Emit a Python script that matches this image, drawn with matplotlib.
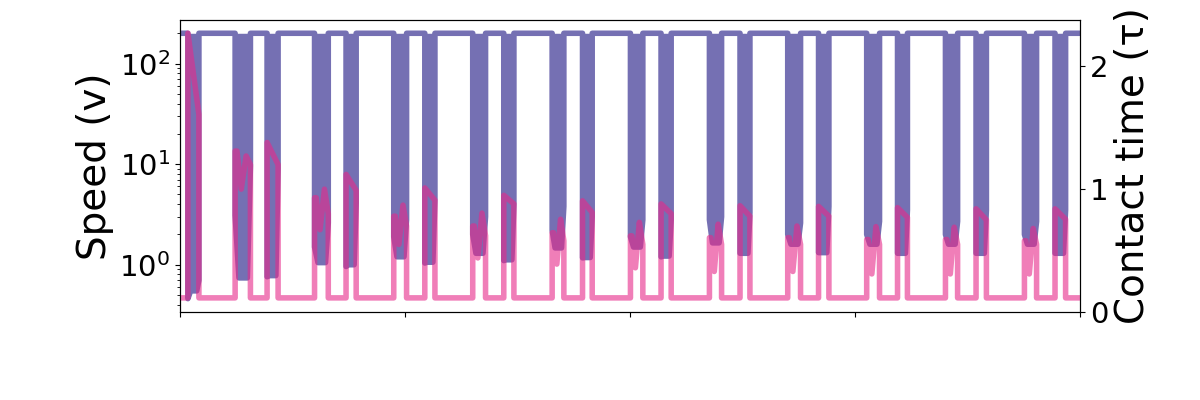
import numpy as np
import matplotlib
matplotlib.use("Agg")
import matplotlib.pyplot as plt

# burst windows (time units), first/second contact of each pair
b_start = [0.35, 3.87, 7.38, 10.88, 14.39, 17.89, 21.38, 24.89, 28.38, 31.89, 35.38, 38.89]
b_end = [0.84, 4.36, 7.83, 11.33, 14.84, 18.32, 21.83, 25.33, 28.84, 32.33, 35.84, 39.36]
a_start = [2.45, 5.98, 9.50, 13.01, 16.54, 20.02, 23.53, 27.01, 30.52, 34.02, 37.53]
a_end = [3.13, 6.59, 10.07, 13.58, 17.06, 20.57, 24.07, 27.58, 31.09, 34.56, 38.07]

# speed: top level and lower envelope of the oscillation inside each burst
v_top = 200
b_low_in = [0.46, 0.76, 0.96, 1.04, 1.10, 1.17, 1.20, 1.30, 1.32, 1.30, 1.30, 1.30]
b_low_floor = [0.55, 0.78, 1.0, 1.06, 1.12, 1.18, 1.22, 1.30, 1.32, 1.30, 1.30, 1.30]
b_low_out = [0.70, 9.0, 4.1, 4.5, 4.0, 3.0, 2.8, 3.3, 3.8, 3.5, 3.5, 3.5]
a_low_in = [3.1, 1.5, 1.9, 2.0, 2.2, 1.9, 2.8, 2.0, 2.0, 2.0, 2.0]
a_low_floor = [0.74, 1.05, 1.2, 1.3, 1.47, 1.5, 1.65, 1.6, 1.6, 1.6, 1.6]
a_low_out = [9.5, 2.6, 2.8, 3.0, 3.8, 2.8, 3.0, 2.6, 2.7, 2.7, 2.7]

# contact time
tau_base = 0.115
b_tau_peak = [2.27, 1.38, 1.12, 1.01, 0.95, 0.905, 0.88, 0.865, 0.86, 0.85, 0.84, 0.84]
b_tau_end = [1.61, 1.20, 0.99, 0.91, 0.88, 0.81, 0.80, 0.78, 0.78, 0.77, 0.75, 0.755]
a_tau_h1 = [1.31, 0.93, 0.78, 0.70, 0.645, 0.62, 0.605, 0.605, 0.59, 0.59, 0.58]
a_tau_dip = [1.00, 0.67, 0.55, 0.44, 0.39, 0.36, 0.33, 0.33, 0.31, 0.31, 0.31]
a_tau_h2 = [1.27, 1.00, 0.87, 0.805, 0.755, 0.73, 0.715, 0.70, 0.695, 0.69, 0.68]
a_tau_tail = [1.20, 0.80, 0.70, 0.62, 0.58, 0.55, 0.55, 0.55, 0.55, 0.55, 0.55]

purple = '#7570b3'
pink = '#e7298a'

# merge bursts in time order
bursts = []
for i in range(len(b_start)):
    bursts.append(('B', b_start[i], b_end[i], i))
for i in range(len(a_start)):
    bursts.append(('A', a_start[i], a_end[i], i))
bursts.sort(key=lambda b: b[1])

t_v, v = [0.0], [v_top]
t_c, c = [0.0], [tau_base]
for kind, s, e, i in bursts:
    w = e - s
    if kind == 'B':
        t_v += [s, s, s + 0.25 * w, s + 0.8 * w, e, e]
        v += [v_top, b_low_in[i], b_low_floor[i], b_low_floor[i], b_low_out[i], v_top]
        t_c += [s, s, e, e]
        c += [tau_base, b_tau_peak[i], b_tau_end[i], tau_base]
    else:
        t_v += [s, s, s + 0.25 * w, s + 0.8 * w, e, e]
        v += [v_top, a_low_in[i], a_low_floor[i], a_low_floor[i], a_low_out[i], v_top]
        t_c += [s, s, s + 0.12 * w, s + 0.4 * w, s + 0.72 * w, e, e]
        c += [tau_base, a_tau_h1[i], a_tau_h1[i], a_tau_dip[i], a_tau_h2[i], a_tau_tail[i], tau_base]
t_v.append(40.0); v.append(v_top)
t_c.append(40.0); c.append(tau_base)

fig = plt.figure(figsize=(12, 4), dpi=100)
ax1 = fig.add_axes([0.15, 0.22, 0.75, 0.73])
ax1.fill_between(t_v, v, v_top, color=purple, lw=0)
ax1.plot(t_v, v, color=purple, lw=4)
ax1.set_yscale('log')
ax1.set_ylim(0.339, 271)
ax1.set_xlim(0, 40)
ax1.set_xticks([0, 10, 20, 30, 40])
ax1.tick_params(labelbottom=False, labelsize=21)
ax1.set_ylabel('Speed (v)', fontsize=28)

ax2 = ax1.twinx()
ax2.plot(t_c, c, color=pink, lw=4, alpha=0.6)
ax2.set_ylim(0, 2.377)
ax2.set_yticks([0, 1, 2])
ax2.tick_params(labelsize=21)
ax2.set_ylabel('Contact time (τ)', fontsize=28)

fig.savefig('out.png', dpi=100)
